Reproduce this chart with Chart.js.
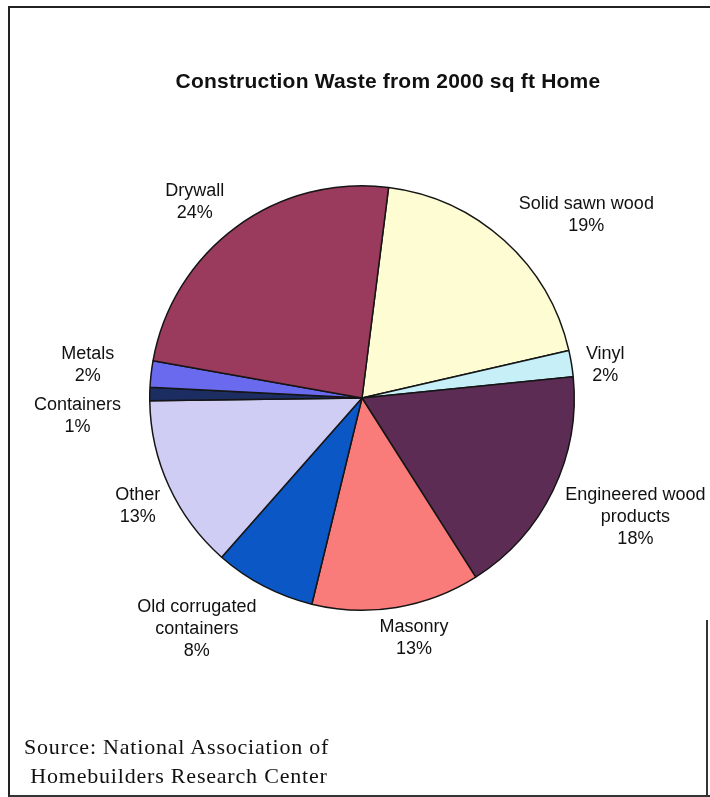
<!DOCTYPE html>
<html>
<head>
<meta charset="utf-8">
<script src="https://cdn.jsdelivr.net/npm/chart.js@4.4.1/dist/chart.umd.min.js"></script>
<style>
  html, body { margin: 0; padding: 0; background: #ffffff; }
  #wrap { position: relative; width: 710px; height: 797px; overflow: hidden; background: #fff; }
  #c { position: absolute; left: 0; top: 0; }
  #frame { position: absolute; left: 8px; top: 6px; width: 710px; height: 787px;
           border-top: 2px solid #222; border-left: 2px solid #222; border-bottom: 2px solid #333; }
  #rline { position: absolute; left: 706px; top: 620px; width: 2px; height: 177px; background: #333; }
  #title { position: absolute; left: 0; width: 776px; top: 69px; text-align: center;
           font-family: "Liberation Sans", Arial, sans-serif; font-weight: bold; font-size: 21px;
           letter-spacing: 0.2px; color: #111; }
  #source { position: absolute; left: 24px; top: 732px; font-family: "Liberation Serif", "Times New Roman", serif;
            font-size: 22px; letter-spacing: 0.8px; line-height: 29px; color: #111; }
</style>
</head>
<body>
<div id="wrap">
  <canvas id="c" width="710" height="797"></canvas>
  <div id="frame"></div>
  <div id="rline"></div>
  <div id="title">Construction Waste from 2000 sq ft Home</div>
  <div id="source">Source: National Association of<br>&nbsp;Homebuilders Research Center</div>
</div>
<script>
// ---- data ----
const categories = ["Solid sawn wood", "Vinyl", "Engineered wood products", "Masonry",
                    "Old corrugated containers", "Other", "Containers", "Metals", "Drywall"];
const labelLines = [["Solid sawn wood"], ["Vinyl"], ["Engineered wood", "products"], ["Masonry"],
                    ["Old corrugated", "containers"], ["Other"], ["Containers"], ["Metals"], ["Drywall"]];
const shares = [19.4, 2.0, 17.6, 12.8, 7.7, 13.3, 1.0, 2.0, 24.2];
const colors = ["#fdfcd3", "#c6eff8", "#5c2c55", "#f97b7a", "#0b57c6", "#cfcdf4", "#1c2d62", "#6a6aee", "#9a3a5c"];

// label block centres relative to pie centre, in units of radius (layout only)
const labelOffsets = [[1.057, -0.861], [1.146, -0.153], [1.288, 0.561], [0.245, 1.130],
                      [-0.778, 1.090], [-1.057, 0.509], [-1.340, 0.087], [-1.292, -0.156], [-0.788, -0.922]];

const labelPlugin = {
  id: 'outLabels',
  afterDatasetsDraw(chart) {
    const ctx = chart.ctx;
    const meta = chart.getDatasetMeta(0);
    const total = shares.reduce((a, b) => a + b, 0);
    ctx.save();
    ctx.font = '18px "Liberation Sans", Arial, sans-serif';
    ctx.fillStyle = '#111';
    ctx.textAlign = 'center';
    ctx.textBaseline = 'middle';
    const lh = 22;
    meta.data.forEach((arc, i) => {
      const cx = arc.x, cy = arc.y, r = arc.outerRadius;
      const lines = labelLines[i].concat([Math.round(shares[i] / total * 100) + '%']);
      const bx = cx + labelOffsets[i][0] * r;
      const by = cy + labelOffsets[i][1] * r;
      const y0 = by - (lines.length - 1) * lh / 2;
      lines.forEach((t, k) => ctx.fillText(t, bx, y0 + k * lh));
    });
    ctx.restore();
  }
};

new Chart(document.getElementById('c'), {
  type: 'pie',
  data: {
    labels: categories,
    datasets: [{
      data: shares,
      backgroundColor: colors,
      borderColor: '#151515',
      borderWidth: 1.5
    }]
  },
  options: {
    responsive: false,
    animation: false,
    rotation: 7.2,
    layout: { padding: { left: 149, right: 135, top: 185, bottom: 186 } },
    plugins: { legend: { display: false }, tooltip: { enabled: false }, title: { display: false } }
  },
  plugins: [labelPlugin]
});
</script>
</body>
</html>
